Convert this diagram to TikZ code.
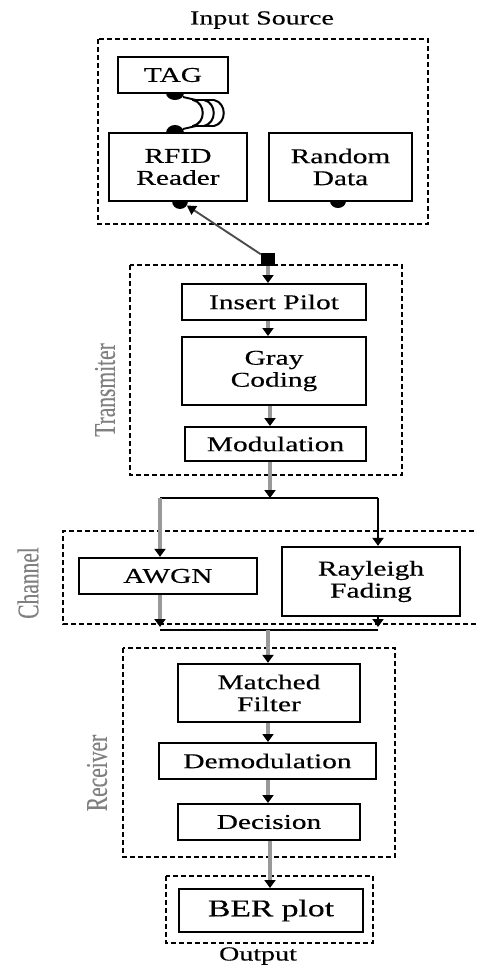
\documentclass[tikz,border=0pt]{standalone}
\usepackage{fontspec}
\usepackage{graphicx}
\setmainfont{Liberation Serif}
\newfontfamily\wideserif[FakeStretch=1.4,FakeBold=0.4]{Liberation Serif}
\newfontfamily\sideserif[FakeBold=0.3]{Liberation Serif}
\newcommand{\tall}[1]{\scalebox{1}[1.4]{#1}}
\usetikzlibrary{arrows.meta,shapes.geometric}
\tikzset{
  blk/.style={draw=black, line width=2.3pt, fill=white, inner sep=0pt, align=center,
    font=\wideserif\fontsize{21}{22}\selectfont},
  grp/.style={draw=black, line width=1.8pt, dash pattern=on 5pt off 3pt},
  grplabel/.style={font=\wideserif\fontsize{20}{22}\selectfont},
  sidelabel/.style={font=\sideserif\fontsize{21.5}{22}\selectfont, text=black!50, rotate=90, inner sep=0pt},
  blob/.style={ellipse, fill=black, draw=none, inner sep=0pt},
  vline/.style={draw=black!40, line width=3.4pt, -{Triangle[width=11pt,length=8pt,black]}},
  hline/.style={draw=black, line width=2.3pt},
  darr/.style={draw=black, line width=2.3pt, -{Triangle[width=11pt,length=8pt,black]}},
}
\begin{document}
\begin{tikzpicture}[x=1pt,y=-1pt]
\useasboundingbox (0,0) rectangle (476,968);

% ---------- Input Source ----------
\node[grplabel] (inlabel) at (262,20) {Input Source};
\draw[grp] (98,39) rectangle (428,224);
\node[blob, minimum width=18pt, minimum height=14pt] (tagdot) at (175,93) {};
\node[blob, minimum width=18pt, minimum height=16pt] (rfidtop) at (175,133) {};
\node[blob, minimum width=16pt, minimum height=16pt] (rfiddot) at (180,201) {};
\node[blob, minimum width=16pt, minimum height=14pt] (randdot) at (338,201) {};
\node[blk, minimum width=110pt, minimum height=36pt] (tag) at (173,75) {TAG};
\node[blk, minimum width=138pt, minimum height=68pt] (rfid) at (178,167) {RFID\\Reader};
\node[blk, minimum width=143pt, minimum height=68pt] (rand) at (340.5,167) {Random\\Data};
% wireless waves
\draw[line width=1.9pt] (183,97) .. controls (190,98) .. (196,100);
\draw[line width=1.9pt] (183,129) .. controls (190,128) .. (196,126);
\foreach \xo in {193,204,214}{
  \draw[line width=2pt] (\xo,100) .. controls (\xo+13,103) and (\xo+13,123) .. (\xo,126);
}
\draw[line width=1.9pt] (192,100) -- (214,100);
\draw[line width=1.9pt] (192,126) -- (214,126);

% ---------- Transmitter ----------
\draw[grp] (130,265) rectangle (402,475);
\node[rectangle, fill=black, minimum width=14pt, minimum height=13pt, inner sep=0pt] (sq) at (268,259) {};
\draw[draw=black!70, line width=1.9pt, -{Triangle[width=10pt,length=9pt,black]}] (sq) -- (rfiddot);
\node[sidelabel] (txlabel) at (105,390) {\tall{Transmiter}};
\node[blk, minimum width=184pt, minimum height=36pt] (pilot) at (274,302) {Insert Pilot};
\node[blk, minimum width=184pt, minimum height=68pt] (gray) at (274,371) {Gray\\Coding};
\node[blk, minimum width=181pt, minimum height=34pt] (mod) at (275.5,444) {Modulation};
\draw[vline] (sq.south) -- (268,283);
\draw[vline] (268,321) -- (268,336);
\draw[vline] (270,406) -- (270,426);

% ---------- Channel ----------
\coordinate (split) at (270,498);
\coordinate (lsplit) at (160,498);
\coordinate (rsplit) at (378,498);
\draw[vline] (mod.south -| split) -- (split);
\draw[hline] (lsplit) -- (rsplit);
\draw[grp] (482,531) -- (63,531) -- (63,624) -- (482,624);
\node[sidelabel] (chlabel) at (28,583) {\tall{Channel}};
\node[blk, minimum width=178pt, minimum height=36pt] (awgn) at (168,576) {AWGN};
\node[blk, minimum width=178pt, minimum height=69pt] (ray) at (371,581.5) {Rayleigh\\Fading};
\draw[vline] (lsplit) -- (lsplit |- awgn.north);
\draw[darr] (rsplit) -- (rsplit |- ray.north);
\coordinate (lmerge) at (160,630);
\coordinate (rmerge) at (378,630);
\coordinate (cmerge) at (268,630);
\draw[hline] (lmerge) -- (rmerge);
\draw[vline] (lmerge |- awgn.south) -- (160,627);
\draw[darr] (rmerge |- ray.south) -- (378,627);

% ---------- Receiver ----------
\draw[grp] (123,648) rectangle (395,857);
\node[sidelabel] (rxlabel) at (97,773) {\tall{Receiver}};
\node[blk, minimum width=182pt, minimum height=58pt] (mf) at (269,693) {Matched\\Filter};
\node[blk, minimum width=217pt, minimum height=36pt] (demod) at (267.5,761) {Demodulation};
\node[blk, minimum width=182pt, minimum height=36pt] (dec) at (269,822) {Decision};
\draw[vline] (cmerge) -- (cmerge |- mf.north);
\draw[vline] (268,723) -- (268,742);
\draw[vline] (268,780) -- (268,803);

% ---------- Output ----------
\draw[grp] (166,876) rectangle (373,943);
\node[blk, minimum width=184pt, minimum height=43pt, font=\wideserif\fontsize{24}{25}\selectfont] (ber) at (271,910.5) {BER plot};
\draw[vline] (270,841) -- (270,888);
\node[grplabel] (outlabel) at (258,956) {Output};
\end{tikzpicture}
\end{document}
